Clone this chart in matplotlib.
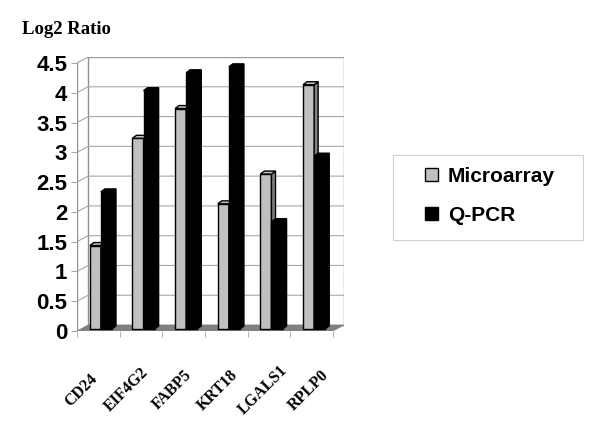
import matplotlib
matplotlib.use("Agg")
import matplotlib.pyplot as plt
import matplotlib.transforms as mtransforms
from matplotlib.patches import Polygon, Patch, Rectangle

genes = ["CD24", "EIF4G2", "FABP5", "KRT18", "LGALS1", "RPLP0"]
microarray = [1.4, 3.2, 3.7, 2.1, 2.6, 4.1]
qpcr = [2.3, 4.0, 4.3, 4.4, 1.8, 2.9]
yticks = [0, 0.5, 1, 1.5, 2, 2.5, 3, 3.5, 4, 4.5]

# fake 3d geometry (data units)
DX, DY = 0.26, 0.10      # depth of the wall / floor
BDX, BDY = 0.094, 0.05   # depth of a bar
Y0 = 0.035               # bars stand a bit behind the front edge
W = 0.26

fig = plt.figure(figsize=(6, 4.38), dpi=100)
ax = fig.add_axes([77 / 600, 1 - 331 / 438, 267 / 600, 274 / 438])
ax.set_xlim(-0.5, 5.5 + DX)
ax.set_ylim(0, 4.5 + DY)
for s in ax.spines.values():
    s.set_visible(False)

grid = "#a8a8a8"
# back wall
ax.add_patch(Polygon([(-0.5 + DX, DY), (5.5 + DX, DY), (5.5 + DX, 4.5 + DY), (-0.5 + DX, 4.5 + DY)],
                     closed=True, facecolor="white", edgecolor="#909090", lw=1, zorder=0))
for t in yticks[1:]:
    ax.plot([-0.5, -0.5 + DX, 5.5 + DX], [t, t + DY, t + DY], color=grid, lw=0.8, zorder=1)
ax.plot([-0.5, -0.5], [0, 4.5], color="#909090", lw=1, zorder=1)
# floor
ax.add_patch(Polygon([(-0.5, 0), (5.5, 0), (5.5 + DX, DY), (-0.5 + DX, DY)],
                     closed=True, facecolor="#808080", edgecolor="#808080", lw=0.5, zorder=1))


def bar3d(x, v, face, side):
    ax.bar(x, v, W, bottom=Y0, align="edge", color=face, edgecolor="black", lw=1, zorder=3)
    top = v + Y0
    ax.add_patch(Polygon([(x + W, top), (x + W + BDX, top + BDY), (x + W + BDX, Y0 + BDY), (x + W, Y0)],
                         closed=True, facecolor=side, edgecolor="black", lw=1, zorder=3))
    ax.add_patch(Polygon([(x, top), (x + BDX, top + BDY), (x + W + BDX, top + BDY), (x + W, top)],
                         closed=True, facecolor=face, edgecolor="black", lw=1, zorder=3))


for i in range(len(genes)):
    x = i - 0.5 + 0.30
    bar3d(x, microarray[i], "#c0c0c0", "#808080")
    bar3d(x + W, qpcr[i], "black", "black")

ax.set_yticks(yticks)
ax.set_yticklabels([f"{t:g}" for t in yticks], fontsize=16, fontweight="bold",
                   family="Liberation Sans")
ax.tick_params(axis="y", length=4, color=grid, pad=3)

# category labels, rotated, a bit wider spread than the bars
ax.set_xticks([])
ax.set_xticks([i + 0.5 for i in range(-1, 6)], minor=True)
ax.tick_params(axis="x", which="minor", length=4, color=grid)
trans = mtransforms.blended_transform_factory(ax.transData, ax.transAxes)
for i, g in enumerate(genes):
    ax.text(-0.5 + (4.5 + 45.4 * i) / 42.7, -59 / 274, g, transform=trans,
            rotation=45, ha="center", va="center", fontsize=11.5,
            fontweight="bold", family="Liberation Serif")

fig.text(22 / 600, 1 - 29 / 438, "Log2 Ratio", fontsize=13.5, fontweight="bold",
         family="Liberation Serif", va="center")

handles = [Patch(facecolor="#c0c0c0", edgecolor="black", label="Microarray"),
           Patch(facecolor="black", edgecolor="black", label="Q-PCR")]
leg = fig.legend(handles=handles, loc="center", bbox_to_anchor=(490 / 600, 1 - 196 / 438),
                 prop={"family": "Liberation Sans", "weight": "bold", "size": 15},
                 handlelength=0.6, handleheight=0.6, handletextpad=0.5,
                 labelspacing=0.95, borderpad=0.3, frameon=False)
fig.patches.append(Rectangle((393 / 600, 1 - 240 / 438), 190 / 600, 85 / 438,
                             transform=fig.transFigure, facecolor="none",
                             edgecolor="#d0d0d0", lw=0.8))

fig.savefig("out.png", dpi=100)
